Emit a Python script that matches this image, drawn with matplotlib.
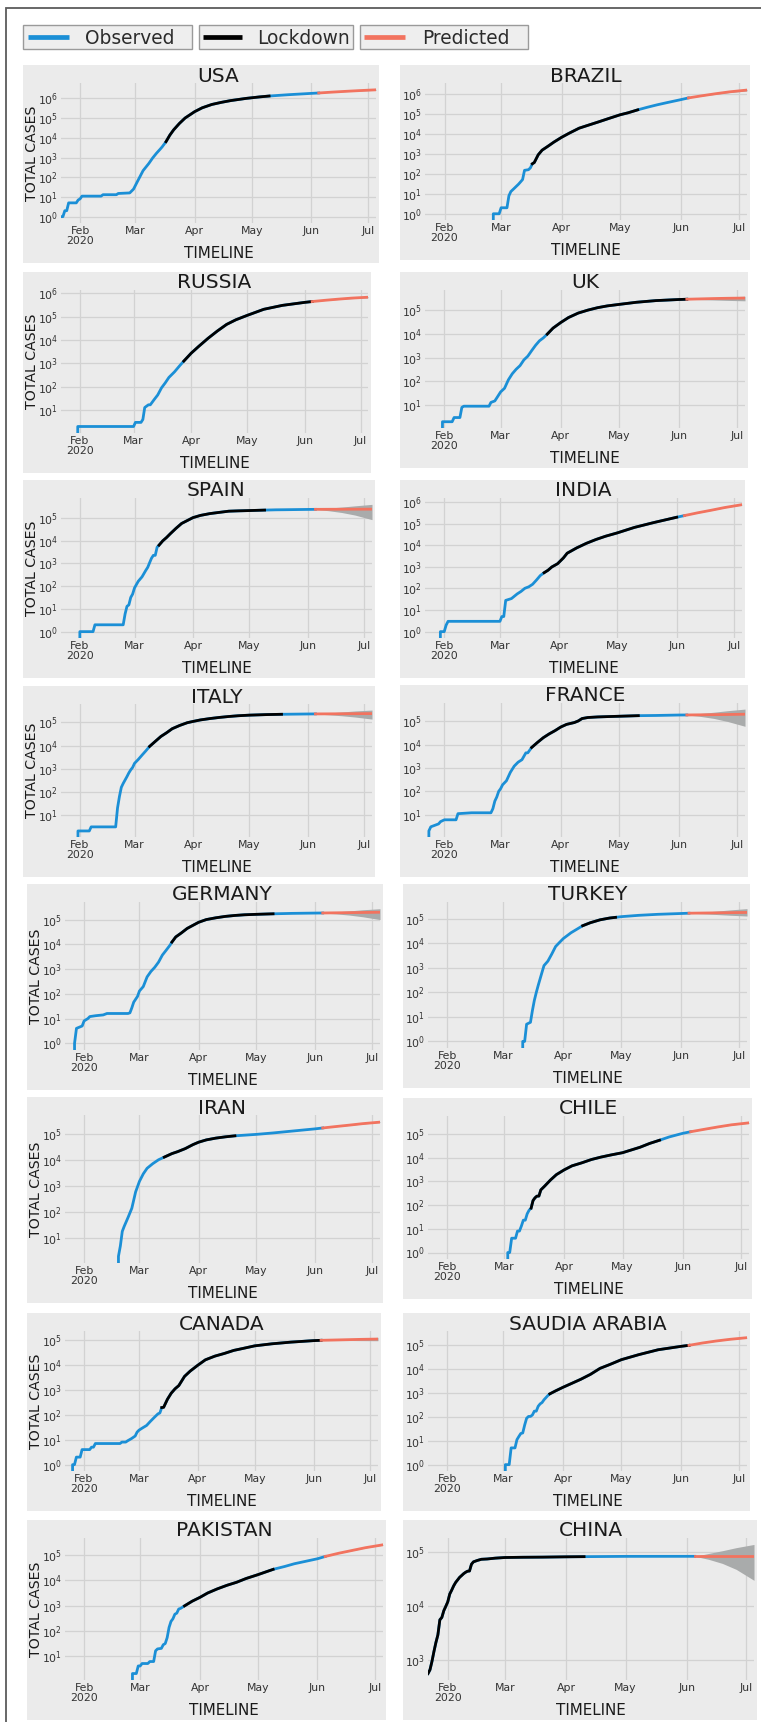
import numpy as np
import pandas as pd
import matplotlib
matplotlib.use("Agg")
import matplotlib.pyplot as plt
import matplotlib.ticker as mticker
from matplotlib.patches import Rectangle
from matplotlib.lines import Line2D

W, H = 761, 1722

# ---- total cases (observed part, Jan 22 -> Jun 5 2020) ----
usa_days = ["01-22","01-23","01-24","01-25","01-26","01-30","01-31","02-01","02-02","02-12",
            "02-13","02-20","02-21","02-27","02-29","03-02","03-05","03-08","03-10","03-12",
            "03-14","03-15","03-17","03-19","03-21","03-24","03-27","04-01","04-05","04-10",
            "04-15","04-20","04-28","05-05","05-10","05-20","06-01","06-05"]
usa_cases = [1,1,2,2,5,5,7,8,11,11,
             13,13,15,16,25,60,217,500,950,1650,
             2700,3500,6400,13700,25500,53700,101600,214000,337000,496000,
             636000,784000,1010000,1200000,1330000,1550000,1810000,1900000]

brazil_days = ["02-25","02-26","02-29","03-01","03-04","03-05","03-06","03-08","03-10","03-12",
               "03-13","03-15","03-16","03-17","03-18","03-20","03-22","03-25","03-28","04-01",
               "04-05","04-10","04-15","04-20","04-25","05-01","05-05","05-10","05-15","05-20",
               "05-25","06-01","06-05"]
brazil_cases = [0,1,1,2,2,8,13,20,31,52,
                151,162,200,321,372,904,1546,2433,3904,6836,
                11130,19638,28320,40743,59324,92202,115455,162699,220291,291579,
                374898,526447,645771]

russia_days = ["01-30","01-31","03-01","03-02","03-05","03-06","03-07","03-09","03-10","03-12",
               "03-14","03-16","03-18","03-20","03-23","03-26","03-28","04-01","04-05","04-10",
               "04-15","04-20","04-25","05-01","05-10","05-20","06-01","06-05"]
russia_cases = [0,2,2,3,3,4,13,17,17,28,
                45,90,147,253,438,840,1264,2777,5389,11917,
                24490,47121,74588,114431,209688,308705,414878,449834]

uk_days = ["01-30","01-31","02-05","02-06","02-09","02-10","02-11","02-24","02-25","02-27",
           "02-28","03-01","03-03","03-05","03-07","03-09","03-11","03-13","03-15","03-17",
           "03-19","03-21","03-23","03-25","03-28","04-01","04-05","04-10","04-15","04-20",
           "04-25","05-01","05-10","05-20","06-01","06-05"]
uk_cases = [0,2,2,3,3,8,9,9,13,15,
            20,36,51,116,209,323,459,801,1144,1960,
            3277,5067,6726,9640,17312,29865,48451,74605,99483,125856,
            149569,172481,212629,249619,277985,284868]

spain_days = ["01-31","02-01","02-08","02-09","02-24","02-25","02-26","02-27","02-28","02-29",
              "03-01","03-03","03-05","03-07","03-08","03-09","03-10","03-11","03-12","03-13",
              "03-14","03-16","03-18","03-20","03-23","03-26","04-01","04-05","04-10","04-15",
              "04-20","04-25","05-01","05-09","05-15","05-20","06-01","06-05"]
spain_cases = [0,1,1,2,2,6,13,15,32,45,
               84,165,259,500,673,1073,1695,2277,2277,5232,
               6391,9942,13910,20410,35136,57786,104118,130759,157022,177633,
               200210,207000,213435,223578,230183,232555,239479,241310]

india_days = ["01-29","01-30","02-01","02-02","02-03","03-01","03-02","03-03","03-04","03-07",
              "03-10","03-12","03-14","03-16","03-18","03-20","03-22","03-24","03-26","03-28",
              "03-31","04-03","04-05","04-10","04-15","04-20","04-25","05-01","05-10","05-20",
              "06-01","06-05"]
india_cases = [0,1,1,2,3,3,5,5,28,34,
               56,73,102,119,156,244,396,536,694,987,
               1397,2567,4289,7598,12322,18539,26283,37257,67161,112359,
               198706,236657]

italy_days = ["01-30","01-31","02-06","02-07","02-20","02-21","02-22","02-23","02-24","02-25",
              "02-26","02-27","02-28","02-29","03-01","03-03","03-05","03-07","03-09","03-12",
              "03-15","03-18","03-21","03-25","03-29","04-01","04-05","04-10","04-15","04-20",
              "04-25","05-01","05-10","05-18","06-01","06-05"]
italy_cases = [0,2,2,3,3,20,62,155,229,322,
               453,655,888,1128,1694,2502,3858,5883,9172,15113,
               24747,35713,53578,74386,97689,110574,128948,147577,165155,181228,
               195351,207428,219070,225886,233019,234531]

france_days = ["01-23","01-24","01-25","01-29","01-30","02-01","02-07","02-08","02-15","02-25",
               "02-26","02-27","02-28","02-29","03-01","03-02","03-04","03-06","03-08","03-10",
               "03-12","03-14","03-15","03-17","03-20","03-23","03-26","03-29","04-01","04-04",
               "04-08","04-10","04-12","04-15","04-20","04-25","05-01","05-11","05-20","06-01",
               "06-05"]
france_cases = [0,2,3,4,5,6,6,11,12,12,
                18,38,57,100,130,191,285,653,1209,1784,
                2284,4480,4513,7652,12612,20123,29155,40174,57749,75000,
                90000,105000,133670,147969,156480,161644,167299,177547,180933,189220,
                190180]

germany_days = ["01-26","01-27","01-28","01-31","02-01","02-03","02-04","02-07","02-11","02-13",
                "02-24","02-25","02-26","02-27","02-29","03-01","03-03","03-05","03-07","03-09",
                "03-11","03-13","03-15","03-17","03-18","03-20","03-23","03-26","04-01","04-05",
                "04-10","04-15","04-20","04-25","05-01","05-10","05-20","06-01","06-05"]
germany_cases = [0,1,4,5,8,10,12,13,14,16,
                 16,17,27,46,79,130,196,482,799,1176,
                 1908,3675,5795,9257,12327,19848,29056,43938,77872,100123,
                 118181,134753,147065,156513,163009,171324,178473,183494,184924]

turkey_days = ["03-10","03-11","03-12","03-13","03-15","03-16","03-17","03-18","03-19","03-20",
               "03-21","03-22","03-24","03-26","03-28","03-30","04-01","04-05","04-11","04-15",
               "04-20","04-25","04-28","05-01","05-10","05-20","06-01","06-05"]
turkey_cases = [0,1,1,5,6,18,47,98,192,359,
                670,1236,1872,3629,7402,10827,15679,27069,52167,69392,
                90980,107773,114653,122392,138657,152587,164769,169218]

iran_days = ["02-18","02-19","02-20","02-21","02-22","02-24","02-26","02-28","03-01","03-03",
             "03-05","03-08","03-11","03-14","03-18","03-21","03-25","03-29","04-01","04-05",
             "04-10","04-15","04-20","05-01","05-10","05-20","06-01","06-05"]
iran_cases = [0,2,5,18,28,61,139,593,1500,2900,
              4747,7161,10075,12729,17361,20610,27017,38309,47593,58226,
              68192,76389,83505,94640,107603,126949,154445,167156]

chile_days = ["03-02","03-03","03-04","03-05","03-07","03-08","03-09","03-10","03-11","03-12",
              "03-13","03-14","03-15","03-16","03-17","03-18","03-19","03-20","03-22","03-25",
              "03-28","04-01","04-05","04-10","04-15","04-20","04-25","05-01","05-10","05-15",
              "05-20","05-25","06-01","06-05"]
chile_cases = [0,1,1,4,4,8,8,13,23,23,
               43,61,74,155,201,238,238,434,632,1142,
               1909,3031,4471,5972,8273,10507,12858,16023,27219,39542,
               53617,73997,105159,122499]

canada_days = ["01-25","01-26","01-27","01-28","01-30","01-31","02-04","02-05","02-06","02-07",
               "02-20","02-21","02-23","02-24","02-26","02-28","02-29","03-01","03-03","03-05",
               "03-07","03-09","03-11","03-12","03-13","03-14","03-16","03-18","03-20","03-22",
               "03-25","03-28","04-01","04-05","04-10","04-15","04-20","04-25","05-01","05-10",
               "05-20","06-01","06-05"]
canada_cases = [0,1,1,2,2,4,4,5,5,7,
                7,8,8,9,11,14,20,24,30,37,
                54,77,108,117,193,198,415,727,1087,1468,
                3409,5576,9560,15756,22148,28379,37658,45354,57148,68918,
                80493,92479,95269]

saudi_days = ["03-01","03-02","03-04","03-05","03-07","03-08","03-09","03-10","03-11","03-12",
              "03-13","03-14","03-15","03-16","03-17","03-18","03-19","03-20","03-21","03-22",
              "03-24","03-25","03-28","04-01","04-05","04-10","04-15","04-20","04-25","05-01",
              "05-10","05-20","06-01","06-05"]
saudi_cases = [0,1,1,5,5,11,15,20,21,45,
               86,103,103,118,171,171,274,344,392,511,
               767,900,1203,1720,2402,3651,5862,10484,15102,24097,
               39048,62545,87142,95748]

pakistan_days = ["02-25","02-26","02-28","02-29","03-01","03-02","03-05","03-06","03-08","03-09",
                 "03-10","03-12","03-13","03-14","03-15","03-16","03-17","03-18","03-19","03-20",
                 "03-21","03-22","03-24","03-28","04-01","04-05","04-10","04-15","04-20","04-25",
                 "05-01","05-09","05-15","05-20","06-01","06-05"]
pakistan_cases = [0,2,2,4,4,5,5,6,6,16,
                  19,20,28,31,53,136,236,299,454,501,
                  730,776,972,1495,2118,3157,4601,6383,8418,11940,
                  16817,27474,35788,45898,72460,89249]

china_days = ["01-22","01-23","01-24","01-25","01-26","01-27","01-28","01-29","01-30","01-31",
              "02-01","02-02","02-03","02-04","02-05","02-06","02-07","02-08","02-09","02-10",
              "02-11","02-12","02-13","02-14","02-16","02-18","02-21","02-25","03-01","03-10",
              "03-20","04-01","04-10","05-01","06-01","06-05"]
china_cases = [548,643,920,1406,2075,2877,5509,6087,8141,9802,
               11891,16630,19716,23707,27440,30587,34110,36814,39829,42354,
               44386,44759,59895,66358,70513,74046,75077,77754,79932,80778,
               81250,82361,82941,83959,84128,84171]

# ---- prediction (mid line + grey interval) ----
pred_days = ["06-05","06-12","06-19","06-26","07-05"]
usa_pred = [1900000,2100000,2300000,2500000,2750000]
usa_lo = [1900000,2060000,2230000,2400000,2600000]
usa_hi = [1900000,2140000,2370000,2610000,2900000]
brazil_pred = [645771,830000,1050000,1300000,1600000]
brazil_lo = [645771,805000,990000,1200000,1450000]
brazil_hi = [645771,855000,1110000,1400000,1760000]
russia_pred = [449834,510000,570000,630000,690000]
russia_lo = [449834,500000,550000,600000,650000]
russia_hi = [449834,520000,590000,660000,740000]
uk_pred = [284868,295000,305000,313000,320000]
uk_lo = [284868,275000,265000,255000,245000]
uk_hi = [284868,310000,335000,355000,380000]
spain_pred = [241310,243000,244000,245000,246000]
spain_lo = [241310,210000,175000,135000,85000]
spain_hi = [241310,275000,305000,345000,400000]
india_pred = [236657,320000,420000,560000,760000]
india_lo = [236657,315000,410000,545000,735000]
india_hi = [236657,325000,430000,575000,785000]
italy_pred = [234531,236000,238000,240000,242000]
italy_lo = [234531,215000,195000,172000,140000]
italy_hi = [234531,258000,285000,315000,345000]
france_pred = [190180,193000,196000,199000,205000]
france_lo = [190180,165000,135000,100000,62000]
france_hi = [190180,220000,250000,290000,340000]
germany_pred = [184924,188000,191000,194000,198000]
germany_lo = [184924,170000,152000,130000,100000]
germany_hi = [184924,205000,225000,250000,275000]
turkey_pred = [169218,172000,175000,178000,182000]
turkey_lo = [169218,160000,150000,140000,130000]
turkey_hi = [169218,185000,205000,230000,260000]
iran_pred = [167156,190000,215000,245000,280000]
iran_lo = [167156,187000,210000,238000,270000]
iran_hi = [167156,193000,220000,252000,290000]
chile_pred = [122499,155000,195000,240000,290000]
chile_lo = [122499,152000,190000,233000,280000]
chile_hi = [122499,158000,200000,247000,300000]
canada_pred = [95269,98000,101000,104000,107000]
canada_lo = [95269,95000,94000,93000,92000]
canada_hi = [95269,101000,108000,116000,125000]
saudi_pred = [95748,120000,145000,170000,200000]
saudi_lo = [95748,118000,142000,166000,194000]
saudi_hi = [95748,122000,148000,174000,206000]
pakistan_pred = [89249,120000,155000,200000,260000]
pakistan_lo = [89249,118000,152000,195000,252000]
pakistan_hi = [89249,122000,158000,205000,268000]
china_pred = [84171,84171,84171,84171,84171]
china_lo = [84171,74000,62000,48000,30000]
china_hi = [84171,95000,107000,122000,140000]

countries = ["USA", "BRAZIL", "RUSSIA", "UK", "SPAIN", "INDIA", "ITALY", "FRANCE",
             "GERMANY", "TURKEY", "IRAN", "CHILE", "CANADA", "SAUDIA ARABIA", "PAKISTAN", "CHINA"]
lock_start = ["03-17","03-17","03-28","03-25","03-14","03-24","03-09","03-17",
              "03-18","04-11","03-14","03-15","03-13","03-25","03-24","01-22"]
lock_end = ["05-10","05-10","06-05","06-05","05-09","06-01","05-18","05-11",
            "05-10","04-28","04-20","05-20","06-05","06-05","05-09","04-10"]

month_ticks = ["02-01","03-01","04-01","05-01","06-01","07-01"]
month_labels = ["Feb\n2020","Mar","Apr","May","Jun","Jul"]
legend_labels = ["Observed", "Lockdown", "Predicted"]

observed = {
    "USA": (usa_days, usa_cases), "BRAZIL": (brazil_days, brazil_cases),
    "RUSSIA": (russia_days, russia_cases), "UK": (uk_days, uk_cases),
    "SPAIN": (spain_days, spain_cases), "INDIA": (india_days, india_cases),
    "ITALY": (italy_days, italy_cases), "FRANCE": (france_days, france_cases),
    "GERMANY": (germany_days, germany_cases), "TURKEY": (turkey_days, turkey_cases),
    "IRAN": (iran_days, iran_cases), "CHILE": (chile_days, chile_cases),
    "CANADA": (canada_days, canada_cases), "SAUDIA ARABIA": (saudi_days, saudi_cases),
    "PAKISTAN": (pakistan_days, pakistan_cases), "CHINA": (china_days, china_cases),
}
predicted = {
    "USA": (usa_pred, usa_lo, usa_hi), "BRAZIL": (brazil_pred, brazil_lo, brazil_hi),
    "RUSSIA": (russia_pred, russia_lo, russia_hi), "UK": (uk_pred, uk_lo, uk_hi),
    "SPAIN": (spain_pred, spain_lo, spain_hi), "INDIA": (india_pred, india_lo, india_hi),
    "ITALY": (italy_pred, italy_lo, italy_hi), "FRANCE": (france_pred, france_lo, france_hi),
    "GERMANY": (germany_pred, germany_lo, germany_hi), "TURKEY": (turkey_pred, turkey_lo, turkey_hi),
    "IRAN": (iran_pred, iran_lo, iran_hi), "CHILE": (chile_pred, chile_lo, chile_hi),
    "CANADA": (canada_pred, canada_lo, canada_hi), "SAUDIA ARABIA": (saudi_pred, saudi_lo, saudi_hi),
    "PAKISTAN": (pakistan_pred, pakistan_lo, pakistan_hi), "CHINA": (china_pred, china_lo, china_hi),
}

# ---- layout (pixel boxes of each panel, left/top/right/bottom) ----
panels_px = [
    (23, 65, 379, 263), (400, 65, 750, 260),
    (23, 272, 371, 473), (400, 272, 748, 468),
    (23, 480, 375, 678), (400, 480, 745, 678),
    (23, 686, 375, 877), (400, 685, 748, 877),
    (27, 884, 383, 1090), (403, 884, 750, 1088),
    (27, 1097, 383, 1303), (403, 1098, 752, 1299),
    (27, 1313, 381, 1511), (403, 1313, 750, 1511),
    (27, 1520, 386, 1720), (403, 1520, 757, 1720),
]

BLUE = "#1b8fd6"
RED = "#f2735f"
BAND = "#a9abab"
BG = "#ebebeb"
LW = 2.0


def d(s):
    return pd.to_datetime(["2020-" + x for x in s]).values


def fy(y):
    return 1 - y / H


fig = plt.figure(figsize=(W / 100, H / 100), dpi=100)
fig.patch.set_facecolor("white")

# outer frame (only left and top edges fall inside the picture)
fig.add_artist(Rectangle((6 / W, fy(1740)), 800 / W, (1740 - 8) / H, transform=fig.transFigure,
                         fill=False, edgecolor="#5c5c5c", lw=1.3, zorder=-2))

# legend boxes
legend_pos = [(23, 192, 28, 69, 85), (199, 353, 203, 242, 257), (360, 528, 364, 405, 422)]
for lab, col, (bx0, bx1, hx0, hx1, tx) in zip(legend_labels, [BLUE, "black", RED], legend_pos):
    fig.add_artist(Rectangle((bx0 / W, fy(49)), (bx1 - bx0) / W, 24 / H, transform=fig.transFigure,
                             facecolor="#eeeeee", edgecolor="#9a9a9a", lw=1.0, zorder=1))
    fig.add_artist(Line2D([hx0 / W, hx1 / W], [fy(37), fy(37)], transform=fig.transFigure,
                          color=col, lw=3.4, solid_capstyle="butt", zorder=2))
    fig.text(tx / W, fy(43.5), lab, fontsize=13.4, color="#2b2b2b", ha="left", va="baseline")

xstart = np.datetime64("2020-01-22")
xend = np.datetime64("2020-07-05")

for i, name in enumerate(countries):
    x0, y0, x1, y1 = panels_px[i]
    left_col = i % 2 == 0
    fig.add_artist(Rectangle((x0 / W, fy(y1)), (x1 - x0) / W, (y1 - y0) / H, transform=fig.transFigure,
                             facecolor=BG, edgecolor="none", zorder=-1))
    ax0 = x0 + (38 if left_col else 25)
    ax1 = x1 - 3
    ay0 = y0 + 18
    ay1 = y1 - 40
    ax = fig.add_axes([ax0 / W, fy(ay1), (ax1 - ax0) / W, (ay1 - ay0) / H])
    ax.set_facecolor(BG)
    ax.set_yscale("log")

    days, cases = observed[name]
    t = d(days)
    v = np.array(cases, dtype=float)
    ax.plot(t, v, color=BLUE, lw=LW, zorder=3)
    m = (t >= d([lock_start[i]])[0]) & (t <= d([lock_end[i]])[0])
    ax.plot(t[m], v[m], color="black", lw=LW, zorder=4)

    mid, lo, hi = predicted[name]
    tp = d(pred_days)
    ax.fill_between(tp, lo, hi, color=BAND, lw=0, zorder=2)
    ax.plot(tp, mid, color=RED, lw=LW, zorder=5)

    ax.set_xlim(xstart, xend)
    ax.set_xticks(d(month_ticks))
    ax.set_xticklabels(month_labels, linespacing=1.0)
    ax.yaxis.set_major_locator(mticker.LogLocator(base=10, numticks=20))
    ax.yaxis.set_minor_locator(mticker.NullLocator())
    ax.grid(True, which="major", color="#d2d2d2", lw=0.9)
    ax.set_axisbelow(True)
    for s in ax.spines.values():
        s.set_visible(False)
    ax.tick_params(length=0, labelsize=7.8, pad=2, colors="#333333")

    cx = (ax0 + ax1) / 2
    fig.text(cx / W, fy(y0 + 16.5), name, fontsize=14.5, ha="center", va="baseline", color="#1a1a1a")
    fig.text(cx / W, fy(y1 - 5), "TIMELINE", fontsize=10.9, ha="center", va="baseline", color="#1a1a1a")
    if left_col:
        fig.text((x0 + 9) / W, fy((ay0 + ay1) / 2), "TOTAL CASES", fontsize=10.2, rotation=90,
                 ha="center", va="center", color="#1a1a1a")

fig.savefig("out.png", dpi=100, facecolor="white")
